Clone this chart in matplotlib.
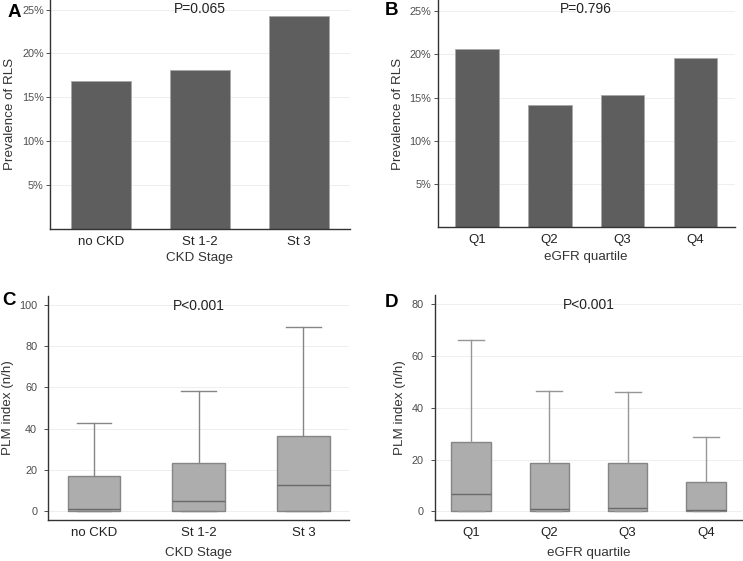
import matplotlib
matplotlib.use("Agg")
import matplotlib.pyplot as plt
from matplotlib.ticker import FuncFormatter

plt.rcParams['font.family'] = ['Liberation Sans', 'DejaVu Sans']

# panel A / B: prevalence of RLS (%)
ckd_stages = ['no CKD', 'St 1-2', 'St 3']
rls_ckd = [16.85, 18.1, 24.25]
quartiles = ['Q1', 'Q2', 'Q3', 'Q4']
rls_egfr = [20.65, 14.2, 15.35, 19.65]

# panel C / D: PLM index boxplots (median, q1, q3, whisker high)
plm_ckd_med = [1.3, 5.2, 12.6]
plm_ckd_q1 = [0, 0, 0]
plm_ckd_q3 = [17.3, 23.5, 36.6]
plm_ckd_hi = [42.7, 58.5, 89.5]

plm_egfr_med = [6.6, 1.0, 1.4, 0.6]
plm_egfr_q1 = [0, 0, 0, 0]
plm_egfr_q3 = [26.9, 18.6, 18.8, 11.2]
plm_egfr_hi = [66.1, 46.4, 46.0, 28.6]

p_texts = ['P=0.065', 'P=0.796', 'P<0.001', 'P<0.001']

fig = plt.figure(figsize=(7.43, 5.61), dpi=100)
axA = fig.add_axes([0.0673, 0.5923, 0.4037, 0.4077])
axB = fig.add_axes([0.589, 0.5945, 0.400, 0.4055])
axC = fig.add_axes([0.065, 0.0731, 0.4047, 0.3999])
axD = fig.add_axes([0.585, 0.0731, 0.4137, 0.4009])

tick_col = '#4D4D4D'
lab = dict(fontsize=9.6, color='#333333')


def style(ax, pad):
    for s in ['top', 'right']:
        ax.spines[s].set_visible(False)
    for s in ['left', 'bottom']:
        ax.spines[s].set_color('#333333')
        ax.spines[s].set_linewidth(1.0)
    ax.yaxis.grid(True, color='#EBEBEB', linewidth=0.6)
    ax.set_axisbelow(True)
    ax.tick_params(axis='y', length=3, width=0.6, color='#333333',
                   labelsize=7.8, labelcolor=tick_col, pad=pad)
    ax.tick_params(axis='x', length=0, labelsize=9.5, labelcolor='#222222', pad=5)


pct = FuncFormatter(lambda v, p: '%d%%' % v)

# A
axA.bar(range(len(ckd_stages)), rls_ckd, width=0.6, color='#5E5E5E',
        edgecolor='#A8A8A8', linewidth=0.6)
axA.set_xlim(-0.515, 2.515)
axA.set_ylim(0, 26.1)
axA.set_yticks([5, 10, 15, 20, 25])
axA.yaxis.set_major_formatter(pct)
axA.set_xticks(range(len(ckd_stages)))
axA.set_xticklabels(ckd_stages)
axA.set_xlabel('CKD Stage', labelpad=3, **lab)
axA.set_ylabel('Prevalence of RLS', labelpad=4, **lab)

# B
axB.bar(range(len(quartiles)), rls_egfr, width=0.6, color='#5E5E5E',
        edgecolor='#A8A8A8', linewidth=0.6)
axB.set_xlim(-0.537, 3.54)
axB.set_ylim(0, 26.3)
axB.set_yticks([5, 10, 15, 20, 25])
axB.yaxis.set_major_formatter(pct)
axB.set_xticks(range(len(quartiles)))
axB.set_xticklabels(quartiles)
axB.set_xlabel('eGFR quartile', labelpad=3, **lab)
axB.set_ylabel('Prevalence of RLS', labelpad=4, **lab)


def boxes(ax, med, q1, q3, hi, whisk_col):
    stats = []
    for i in range(len(med)):
        stats.append(dict(med=med[i], q1=q1[i], q3=q3[i], whislo=q1[i],
                          whishi=hi[i], fliers=[]))
    ax.bxp(stats, positions=range(len(med)), widths=0.5, patch_artist=True,
           showfliers=False,
           boxprops=dict(facecolor='#ADADAD', edgecolor='#858585', linewidth=1.0),
           medianprops=dict(color='#6A6A6A', linewidth=1.0),
           whiskerprops=dict(color=whisk_col, linewidth=1.0),
           capprops=dict(color=whisk_col, linewidth=1.0),
           capwidths=0.33)


# C
boxes(axC, plm_ckd_med, plm_ckd_q1, plm_ckd_q3, plm_ckd_hi, '#858585')
axC.set_xlim(-0.436, 2.436)
axC.set_ylim(-4.2, 104.5)
axC.set_yticks([0, 20, 40, 60, 80, 100])
axC.set_xticks(range(len(ckd_stages)))
axC.set_xticklabels(ckd_stages)
axC.set_xlabel('CKD Stage', labelpad=6, **lab)
axC.set_ylabel('PLM index (n/h)', labelpad=4, **lab)

# D
boxes(axD, plm_egfr_med, plm_egfr_q1, plm_egfr_q3, plm_egfr_hi, '#969696')
axD.set_xlim(-0.464, 3.46)
axD.set_ylim(-3.35, 83.6)
axD.set_yticks([0, 20, 40, 60, 80])
axD.set_xticks(range(len(quartiles)))
axD.set_xticklabels(quartiles)
axD.set_xlabel('eGFR quartile', labelpad=6, **lab)
axD.set_ylabel('PLM index (n/h)', labelpad=4, **lab)

for ax, p in zip([axA, axB, axC, axD], p_texts):
    style(ax, 1.5 if ax in (axA, axB) else 5)
    lo, hi_ = ax.get_xlim()
    ax.text(0.5 * (lo + hi_), 0.962 if ax in (axA, axB) else 0.955, p,
            transform=ax.get_xaxis_transform(), ha='center', va='center',
            fontsize=10, color='#222222')

letter = dict(fontsize=13.5, fontweight='bold', ha='left', va='center')
fig.text(0.010, 0.978, 'A', **letter)
fig.text(0.518, 0.982, 'B', **letter)
fig.text(0.003, 0.465, 'C', **letter)
fig.text(0.518, 0.460, 'D', **letter)

fig.savefig('out.png', dpi=100)
